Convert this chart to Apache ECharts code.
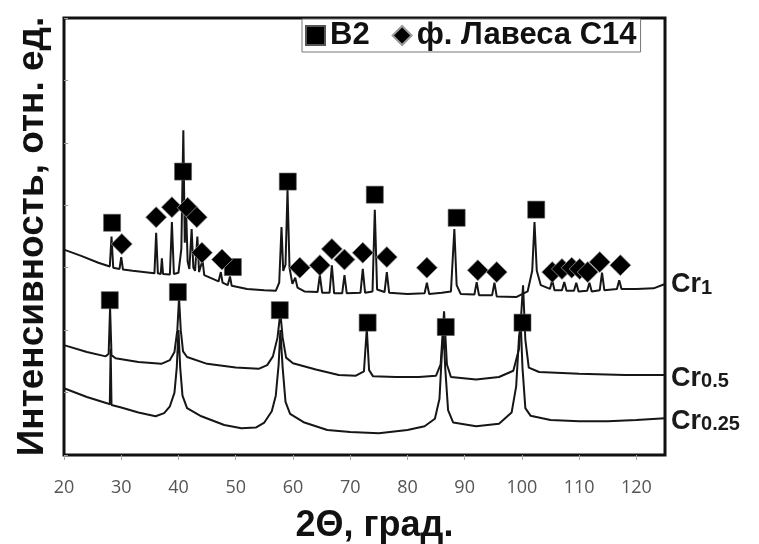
<!DOCTYPE html>
<html>
<head>
<meta charset="utf-8">
<script src="https://cdn.jsdelivr.net/npm/echarts@6/dist/echarts.min.js"></script>
<style>
  html, body { margin: 0; padding: 0; background: #fff; }
  #chart { width: 759px; height: 544px; }
</style>
</head>
<body>
<div id="chart"></div>
<script>
// XRD patterns: [2θ, intensity (offset, rel. units)]
const cr1 = [
  [20,3.29],[23,3.19],[26,3.08],[28.0,3.02],[28.3,3.50],[28.6,3.00],[29.7,2.98],[30.0,3.17],[30.3,2.97],
  [32,2.95],[35,2.92],[35.8,2.91],[36.1,3.56],[36.4,2.91],[36.9,2.90],[37.1,3.15],[37.3,2.90],[38.5,2.89],
  [38.85,3.73],[39.2,2.90],[40.0,2.92],[40.5,3.30],[40.85,5.20],[41.1,3.40],[41.35,3.88],[41.6,3.10],
  [41.9,2.98],[42.3,3.62],[42.6,3.00],[42.9,2.95],[43.3,3.50],[43.6,2.93],[43.9,2.92],[44.2,3.12],[44.5,2.88],
  [45.5,2.84],[47.0,2.78],[47.4,2.93],[47.7,2.76],[48.6,2.72],[49.0,2.86],[49.3,2.71],[52,2.66],[55,2.64],
  [57.0,2.63],[57.6,2.76],[58.0,3.65],[58.3,2.95],[58.7,3.05],[59.05,4.25],[59.4,3.00],[59.9,2.74],[60.4,2.84],
  [60.8,2.68],[62,2.62],[64.3,2.61],[64.7,2.88],[65.1,2.60],[66.4,2.60],[66.8,3.04],[67.2,2.59],[68.6,2.59],
  [69.0,2.88],[69.4,2.59],[71.8,2.60],[72.2,2.98],[72.6,2.60],[73.9,2.62],[74.3,3.93],[74.7,2.65],[76.0,2.61],
  [76.4,2.93],[76.8,2.60],[80,2.58],[83.0,2.59],[83.4,2.76],[83.8,2.58],[86,2.60],[87.6,2.62],[88.2,3.62],
  [88.6,2.72],[89.3,2.58],[91.7,2.57],[92.1,2.77],[92.5,2.56],[94.8,2.56],[95.2,2.76],[95.6,2.54],[99,2.53],
  [101.0,2.62],[101.8,2.95],[102.2,3.73],[102.6,2.95],[103.3,2.72],[104.9,2.66],[105.3,2.80],[105.7,2.64],
  [107.0,2.64],[107.4,2.77],[107.8,2.63],[109.1,2.63],[109.5,2.76],[109.9,2.62],[111.4,2.63],[111.8,2.76],
  [112.2,2.62],[113.6,2.64],[114.0,2.92],[114.4,2.64],[116.6,2.66],[117.0,2.80],[117.4,2.66],[120,2.66],
  [123,2.67],[125,2.74]
];
const cr05 = [
  [20,1.76],[24,1.65],[27.3,1.58],[27.8,1.62],[28.05,2.36],[28.3,1.60],[29,1.55],[33,1.49],[37,1.46],
  [38.5,1.52],[39.3,1.65],[39.8,2.00],[40.1,2.52],[40.4,2.00],[40.8,1.66],[41.5,1.57],[45,1.46],[50,1.40],
  [54,1.38],[55.5,1.44],[56.5,1.58],[57.3,1.88],[57.8,2.28],[58.2,1.88],[58.8,1.56],[60,1.47],[64,1.37],
  [68,1.28],[71,1.27],[72.4,1.34],[72.9,2.02],[73.3,1.36],[74,1.26],[78,1.25],[82,1.25],[85,1.27],
  [85.8,1.45],[86.4,2.30],[86.9,1.45],[87.6,1.25],[92,1.21],[96,1.25],[98.5,1.35],[99.5,1.70],[100.2,2.72],
  [100.6,1.85],[101.2,1.40],[103,1.33],[110,1.30],[118,1.28],[125,1.28]
];
const cr025 = [
  [20,1.07],[24,0.93],[27.5,0.83],[28.0,0.81],[28.15,1.70],[28.3,0.80],[30,0.76],[33,0.68],[36,0.62],
  [37.5,0.67],[38.5,0.78],[39.3,1.00],[39.7,1.40],[40.0,2.00],[40.3,1.40],[40.7,0.95],[41.5,0.75],[44,0.62],
  [48,0.48],[51,0.43],[53.5,0.44],[55,0.52],[56.3,0.70],[57.0,0.95],[57.5,1.45],[57.8,2.00],[58.2,1.40],
  [58.7,0.85],[59.5,0.66],[62,0.52],[66,0.40],[70,0.37],[75,0.35],[80,0.40],[83,0.46],[84.8,0.58],
  [85.6,0.90],[86.0,1.60],[86.3,2.00],[86.6,1.40],[87.1,0.72],[88,0.52],[92,0.46],[96,0.50],[98.2,0.68],
  [99.0,1.10],[99.5,1.90],[99.8,2.10],[100.1,1.40],[100.6,0.75],[101.5,0.63],[105,0.56],[110,0.54],
  [115,0.54],[120,0.56],[125,0.59]
];

// Phase markers placed above the identified reflections
const b2Peaks = [
  [28.4,3.72],[40.8,4.54],[49.5,3.01],[59.1,4.38],[74.3,4.17],[88.6,3.80],[102.5,3.93],
  [28.0,2.48],[39.9,2.61],[57.7,2.32],[73.05,2.12],[86.7,2.05],[100.1,2.12]
];
const lavesPeaks = [
  [30.1,3.38],[36.1,3.81],[38.85,3.97],[41.6,3.96],[43.2,3.81],[44.1,3.24],[47.6,3.13],[61.2,3.00],
  [64.7,3.04],[66.8,3.30],[69.0,3.13],[72.2,3.24],[76.4,3.17],[83.4,3.00],[92.3,2.96],[95.6,2.93],
  [105.3,2.93],[107.0,2.98],[108.7,3.00],[110.1,2.98],[111.5,2.93],[113.6,3.09],[117.2,3.04]
];

const seriesNames = ['Cr1', 'Cr0.5', 'Cr0.25'];
const seriesSubs = ['1', '0.5', '0.25'];
const phaseNames = ['B2', 'ф. Лавеса С14'];

const FONT = 'Liberation Sans, Arial, sans-serif';
const chart = echarts.init(document.getElementById('chart'), null, { renderer: 'canvas' });

function trace(name, sub, data, dy) {
  return {
    name: name,
    type: 'line',
    data: data,
    showSymbol: false,
    silent: true,
    z: 2,
    lineStyle: { color: '#161616', width: 2 },
    endLabel: {
      show: true,
      distance: 6,
      offset: [0, dy],
      formatter: '{a|Cr}{b|' + sub + '}',
      rich: {
        a: { fontFamily: FONT, fontWeight: 'bold', fontSize: 27, color: '#1a1a1a', verticalAlign: 'bottom' },
        b: { fontFamily: FONT, fontWeight: 'bold', fontSize: 20, color: '#1a1a1a', verticalAlign: 'bottom' }
      }
    }
  };
}

chart.setOption({
  animation: false,
  backgroundColor: '#fff',
  grid: {
    left: 64, right: 94, top: 18, bottom: 89,
    outerBoundsMode: 'none',
    containLabel: false,
    show: true, borderColor: '#111', borderWidth: 3, backgroundColor: 'transparent'
  },
  legend: {
    data: phaseNames,
    left: 302, top: 19,
    padding: [1, 4, 1, 3],
    itemGap: 22,
    itemWidth: 19, itemHeight: 19,
    borderColor: '#777', borderWidth: 1,
    backgroundColor: '#fff',
    textStyle: { fontFamily: FONT, fontWeight: 'bold', fontSize: 31, color: '#111' }
  },
  xAxis: {
    type: 'value', min: 20, max: 125, interval: 10,
    name: '2Θ, град.',
    nameLocation: 'middle', nameGap: 53,
    nameTextStyle: { fontFamily: FONT, fontWeight: 'bold', fontSize: 36, color: '#111', padding: [0, 0, 0, 20] },
    axisLine: { show: false },
    axisTick: { show: true, inside: false, length: 5, lineStyle: { color: '#aaa', width: 1 } },
    axisLabel: { margin: 24, showMaxLabel: false, fontFamily: 'Open Sans, sans-serif', fontSize: 18, color: '#555' },
    splitLine: { show: false }
  },
  yAxis: {
    type: 'value', min: 0, max: 7, interval: 1,
    name: 'Интенсивность, отн. ед.',
    nameLocation: 'middle', nameGap: 13, nameRotate: 90,
    nameTextStyle: { fontFamily: FONT, fontWeight: 'bold', fontSize: 37, color: '#111', padding: [0, 0, 0, 0] },
    axisLine: { show: false },
    axisTick: { show: true, inside: true, length: 4, lineStyle: { color: '#999', width: 1 } },
    axisLabel: { show: false },
    splitLine: { show: false }
  },
  series: [
    trace(seriesNames[0], seriesSubs[0], cr1, 1),
    trace(seriesNames[1], seriesSubs[1], cr05, 3),
    trace(seriesNames[2], seriesSubs[2], cr025, 3),
    {
      name: phaseNames[0], type: 'scatter', data: b2Peaks, symbol: 'rect', symbolSize: 17, z: 5,
      itemStyle: { color: '#000', opacity: 1, borderColor: '#555', borderWidth: 0.6 }
    },
    {
      name: phaseNames[1], type: 'scatter', data: lavesPeaks, symbol: 'diamond', symbolSize: 21, z: 6,
      itemStyle: { color: '#000', opacity: 1, borderColor: '#999', borderWidth: 0.8 }
    }
  ]
});
</script>
</body>
</html>
